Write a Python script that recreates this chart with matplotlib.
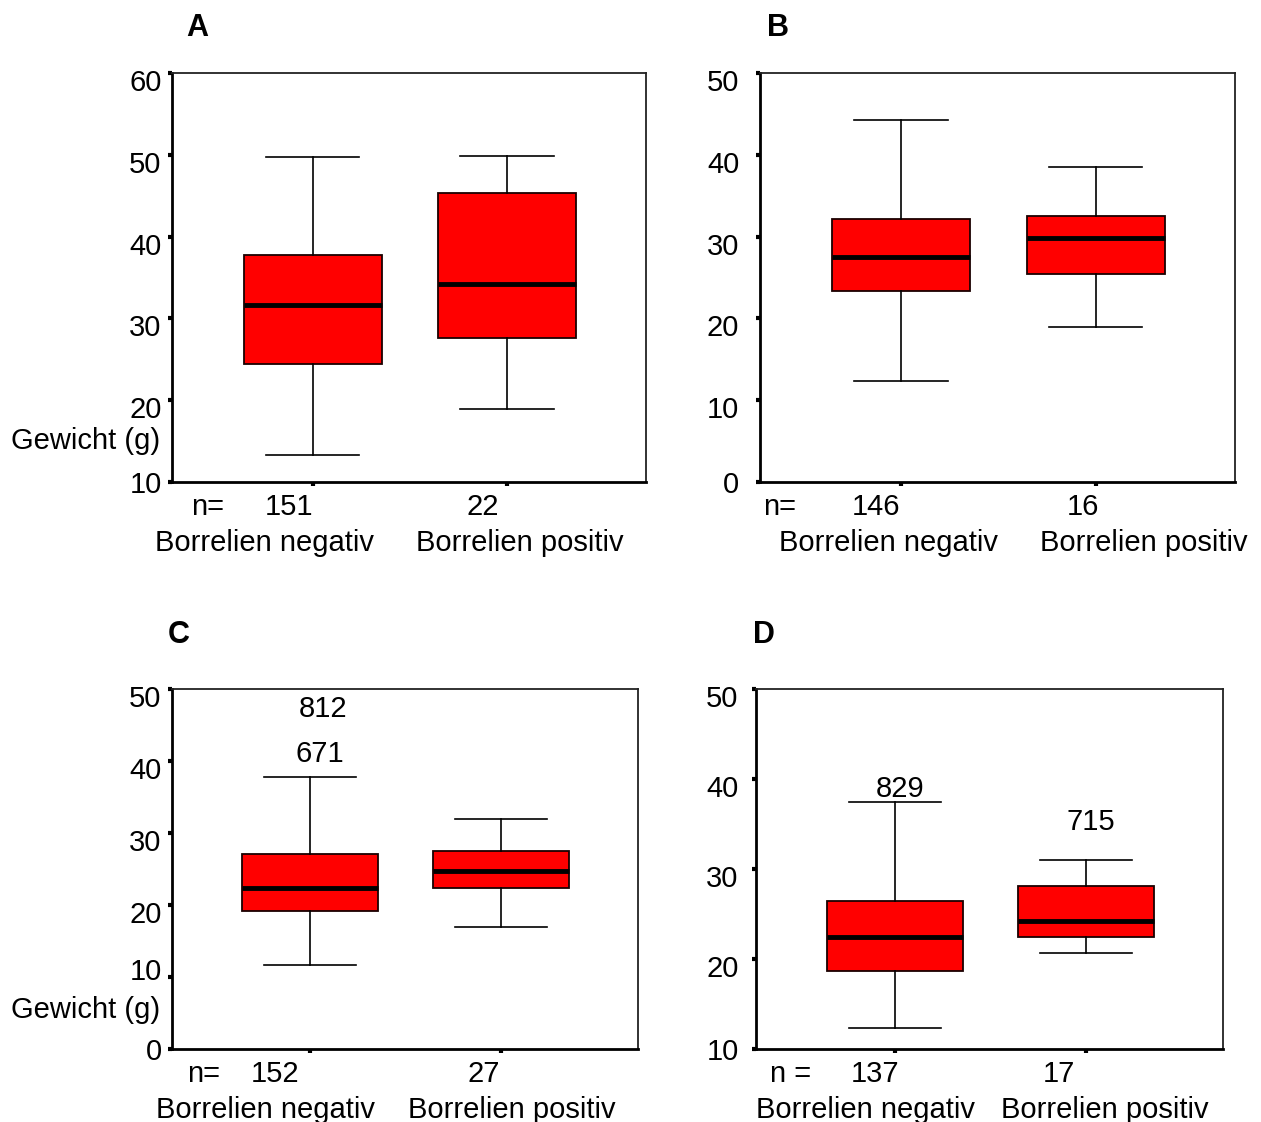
import matplotlib
matplotlib.use("Agg")
import matplotlib.pyplot as plt
from matplotlib.transforms import ScaledTranslation

plt.rcParams['font.family'] = ['Liberation Sans', 'DejaVu Sans']

# box statistics per panel: [negativ, positiv]
panel_letters = ["A", "B", "C", "D"]
categories = ["Borrelien negativ", "Borrelien positiv"]
whisker_low = [[13.3, 18.9], [12.4, 18.9], [11.6, 16.9], [12.3, 20.7]]
quartile_1 = [[24.4, 27.6], [23.3, 25.4], [19.1, 22.3], [18.7, 22.4]]
medians = [[31.6, 34.2], [27.5, 29.8], [22.4, 24.7], [22.4, 24.2]]
quartile_3 = [[37.7, 45.3], [32.2, 32.5], [27.1, 27.5], [26.4, 28.1]]
whisker_high = [[49.7, 49.9], [44.2, 38.5], [37.8, 32.0], [37.4, 31.0]]
n_counts = [[151, 22], [146, 16], [152, 27], [137, 17]]
n_prefix = ["n=", "n=", "n=", "n ="]
y_ranges = [(10, 60), (0, 50), (0, 50), (10, 50)]
# outlier case numbers: (panel, category index, value, label)
outlier_labels = [(2, 0, 47.2, "812"), (2, 0, 41.0, "671"),
                  (3, 0, 38.9, "829"), (3, 1, 35.2, "715")]

W, H = 1261, 1122
fig = plt.figure(figsize=(W / 100, H / 100), dpi=100)

def px_rect(left, top, right, bottom):
    return [left / W, 1 - bottom / H, (right - left) / W, (bottom - top) / H]

# layout (pixels)
axes_px = [(172, 73, 646, 482), (760, 73, 1235, 482),
           (172, 689, 638, 1049), (756, 689, 1223, 1049)]
letter_px = [(197, 28), (778, 28), (179, 635), (764, 635)]
ylabel_pad = [4.5, 12, 4.5, 9.5]
n_dx = [(-24, -24), (-25, -13), (-35, -18), (-20, -27)]
nprefix_dx = [-105, -121, -107, -104]
cat_dx = [(-48, 13), (-12, 48), (-45, 11), (-29, 19)]
outlier_dx = {"812": 13, "671": 10, "829": 5, "715": 5}

FS = 21

for i in range(4):
    ax = fig.add_axes(px_rect(*axes_px[i]))
    stats = []
    for j in range(2):
        stats.append(dict(whislo=whisker_low[i][j], q1=quartile_1[i][j],
                          med=medians[i][j], q3=quartile_3[i][j],
                          whishi=whisker_high[i][j], fliers=[]))
    ax.bxp(stats, positions=[1, 2], widths=0.71, capwidths=0.48,
           patch_artist=True, showfliers=False,
           boxprops=dict(facecolor="#ff0000", edgecolor="#1a0000", linewidth=1.3),
           medianprops=dict(color="black", linewidth=3.5, solid_capstyle="butt"),
           whiskerprops=dict(color="black", linewidth=1.2),
           capprops=dict(color="black", linewidth=1.2))

    lo, hi = y_ranges[i]
    ax.set_ylim(lo, hi)
    ax.set_xlim(0.276, 2.716)
    ax.set_yticks(range(lo, hi + 1, 10))
    ax.set_xticks([1, 2])
    ax.set_xticklabels(["", ""])
    ax.tick_params(axis="y", direction="out", length=3, width=3,
                   labelsize=FS, pad=ylabel_pad[i])
    ax.tick_params(axis="x", direction="out", length=3, width=3)
    # labels sit a little below their tick marks (the "10" in C sits above)
    for k, lab in enumerate(ax.get_yticklabels()):
        if k == 0:
            continue
        shift = 8 if (i == 2 and k == 1) else -7
        lab.set_transform(lab.get_transform() +
                          ScaledTranslation(0, shift / 100, fig.dpi_scale_trans))

    for side in ["left", "bottom"]:
        ax.spines[side].set_linewidth(2.0)
        ax.spines[side].set_color("black")
    for side in ["top", "right"]:
        ax.spines[side].set_linewidth(1.3)
        ax.spines[side].set_color("#222222")

    # sample sizes and group names under the axis
    ax.annotate(n_prefix[i], xy=(1, 0), xycoords=("data", "axes fraction"),
                xytext=(nprefix_dx[i], -25), textcoords="offset pixels",
                ha="center", va="center", fontsize=FS)
    for j in range(2):
        ax.annotate(str(n_counts[i][j]), xy=(j + 1, 0),
                    xycoords=("data", "axes fraction"),
                    xytext=(n_dx[i][j], -25), textcoords="offset pixels",
                    ha="center", va="center", fontsize=FS)
        ax.annotate(categories[j], xy=(j + 1, 0),
                    xycoords=("data", "axes fraction"),
                    xytext=(cat_dx[i][j], -61), textcoords="offset pixels",
                    ha="center", va="center", fontsize=FS,
                    annotation_clip=False)

    for p, j, val, lab in outlier_labels:
        if p == i:
            ax.annotate(lab, xy=(j + 1, val), xytext=(outlier_dx[lab], 0),
                        textcoords="offset pixels", ha="center", va="center",
                        fontsize=FS)

    lx, ly = letter_px[i]
    fig.text(lx / W, 1 - ly / H, panel_letters[i], ha="center", va="center",
             fontsize=22, fontweight="bold")

fig.text(86 / W, 1 - 441 / H, "Gewicht (g)", ha="center", va="center", fontsize=FS)
fig.text(86 / W, 1 - 1010 / H, "Gewicht (g)", ha="center", va="center", fontsize=FS)

fig.savefig("out.png", dpi=100)
